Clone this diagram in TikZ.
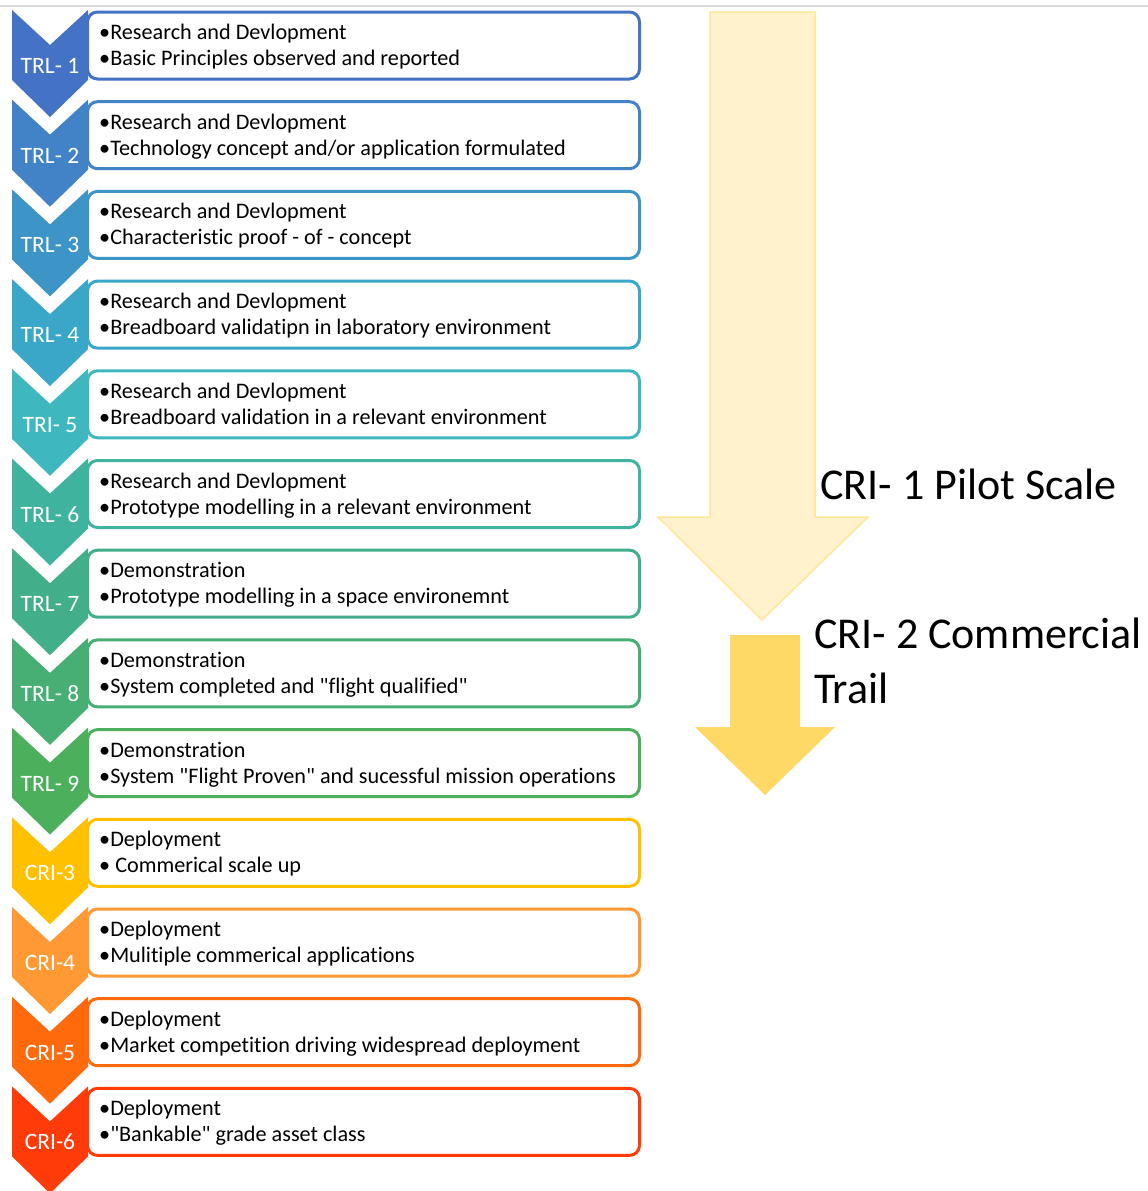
\documentclass[tikz,border=0pt]{standalone}
\usepackage{fontspec}
\setmainfont{Carlito}[Ligatures={TeXOff,NoCommon}]
\definecolor{cA}{HTML}{4472C4}
\definecolor{cB}{HTML}{4183C6}
\definecolor{cC}{HTML}{3D94C6}
\definecolor{cD}{HTML}{3AA7C8}
\definecolor{cE}{HTML}{3EB8BE}
\definecolor{cF}{HTML}{3FB39E}
\definecolor{cG}{HTML}{43AF8A}
\definecolor{cH}{HTML}{47AF74}
\definecolor{cI}{HTML}{4CAF5C}
\definecolor{cJ}{HTML}{FFC000}
\definecolor{cK}{HTML}{FF9933}
\definecolor{cL}{HTML}{FF6A0D}
\definecolor{cM}{HTML}{FF3B0A}
\definecolor{paleY}{HTML}{FFF2CC}
\definecolor{paleYb}{HTML}{FFE699}
\definecolor{goldY}{HTML}{FFD966}
\newcommand\mkstage[5]{%
  \pgfmathsetmacro\T{10+89.7*#1}%
  \node[stagebox=#2] (box#1) at (86,\T+35.5) {};
  \node[stagetxt] (ta#1) at (99,\T+29.5) {#4};
  \node[stagetxt] (tb#1) at (99,\T+55.5) {#5};
  \fill[#2] (12,\T) -- (50,\T+35) -- (88,\T) -- (88,\T+70) -- (50,\T+107) -- (12,\T+70) -- cycle;
  \node[stagelab] (lab#1) at (50,\T+63.5) {#3};
}
\begin{document}
\begin{tikzpicture}[x=1pt,y=-1pt,
  stagebox/.style={draw=#1, line width=3pt, rounded corners=10pt, fill=white,
    minimum height=67pt, minimum width=552pt, inner sep=0pt, anchor=west},
  stagetxt/.style={font=\fontsize{22.2}{26}\selectfont, anchor=base west, inner sep=0pt},
  stagelab/.style={text=white, font=\fontsize{23.5}{26}\selectfont, anchor=base, inner sep=0pt},
  bigtxt/.style={font=\fontsize{44}{53}\selectfont, anchor=base west, inner sep=0pt, text=black}
  ]
\useasboundingbox (0,0) rectangle (1148,1191);
\fill[white] (0,0) rectangle (1148,1191);
\draw[black!15, line width=1.5pt] (0,6) -- (1148,6);
% big arrows
\draw[fill=paleY, draw=paleYb, line width=1.5pt, line join=miter]
  (710,12) -- (815,12) -- (815,517) -- (868,517) -- (762,620) -- (658,517) -- (710,517) -- cycle;
\fill[goldY] (730,635) -- (800,635) -- (800,727) -- (835,727) -- (765,795) -- (695,727) -- (730,727) -- cycle;
\node[bigtxt] (cri1) at (820,499) {CRI- 1 Pilot Scale};
\node[bigtxt] (cri2) at (814,648) {CRI- 2 Commercial};
\node[bigtxt] (trail) at (814,703) {Trail};
% stages
\mkstage{0}{cA}{TRL- 1}{•Research and Devlopment}{•Basic Principles observed and reported}
\mkstage{1}{cB}{TRL- 2}{•Research and Devlopment}{•Technology concept and/or application formulated}
\mkstage{2}{cC}{TRL- 3}{•Research and Devlopment}{•Characteristic proof - of - concept}
\mkstage{3}{cD}{TRL- 4}{•Research and Devlopment}{•Breadboard validatipn in laboratory environment}
\mkstage{4}{cE}{TRI- 5}{•Research and Devlopment}{•Breadboard validation in a relevant environment}
\mkstage{5}{cF}{TRL- 6}{•Research and Devlopment}{•Prototype modelling in a relevant environment}
\mkstage{6}{cG}{TRL- 7}{•Demonstration}{•Prototype modelling in a space environemnt}
\mkstage{7}{cH}{TRL- 8}{•Demonstration}{•System completed and "flight qualified"}
\mkstage{8}{cI}{TRL- 9}{•Demonstration}{•System "Flight Proven" and sucessful mission operations}
\mkstage{9}{cJ}{CRI-3}{•Deployment}{• Commerical scale up}
\mkstage{10}{cK}{CRI-4}{•Deployment}{•Mulitiple commerical applications}
\mkstage{11}{cL}{CRI-5}{•Deployment}{•Market competition driving widespread deployment}
\mkstage{12}{cM}{CRI-6}{•Deployment}{•"Bankable" grade asset class}
\end{tikzpicture}
\end{document}
